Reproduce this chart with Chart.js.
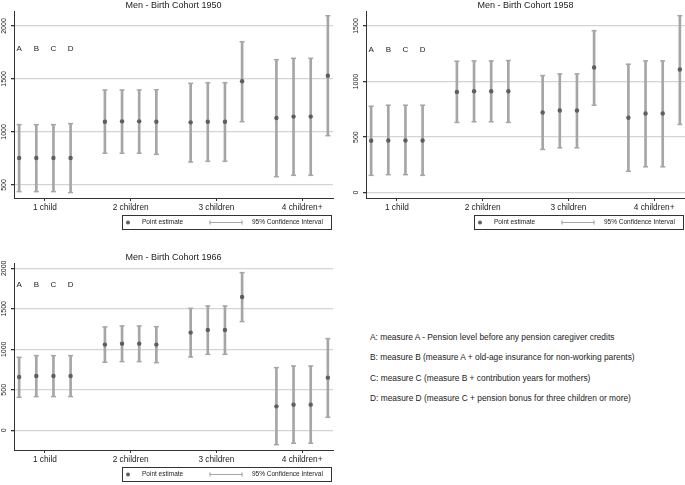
<!DOCTYPE html>
<html>
<head>
<meta charset="utf-8">
<script src="https://cdn.jsdelivr.net/npm/chart.js@4.4.1/dist/chart.umd.min.js"></script>
<style>
  body { margin: 0; width: 685px; height: 485px; overflow: hidden; position: relative; background: #fff; }
  canvas { position: absolute; }
  #notes { position: absolute; left: 370px; top: 327px; font: 8.4px "Liberation Sans", Arial, sans-serif; line-height: 20.3px; color: #222; white-space: nowrap; }
</style>
</head>
<body>
<canvas id="c1950" width="340" height="240" style="left:0;top:0"></canvas>
<canvas id="c1958" width="340" height="240" style="left:352px;top:0"></canvas>
<canvas id="c1966" width="340" height="240" style="left:0;top:252px"></canvas>
<div id="notes">
  <div>A: measure A - Pension level before any pension caregiver credits</div>
  <div>B: measure B (measure A + old-age insurance for non-working parents)</div>
  <div>C: measure C (measure B + contribution years for mothers)</div>
  <div>D: measure D (measure C + pension bonus for three children or more)</div>
</div>
<script>
// categories and measures
const categories = ['1 child', '2 children', '3 children', '4 children+'];
const measures = ['A', 'B', 'C', 'D'];

// cohort 1950: rows = categories, columns = measures A-D
const est1950 = [[755, 755, 755, 755], [1097, 1100, 1100, 1097], [1091, 1097, 1097, 1478], [1132, 1145, 1145, 1531]];
const lo1950  = [[437, 437, 437, 428], [799, 799, 799, 789], [717, 723, 723, 1097], [578, 591, 591, 965]];
const hi1950  = [[1069, 1069, 1069, 1079], [1396, 1396, 1396, 1399], [1459, 1465, 1465, 1852], [1682, 1695, 1695, 2097]];
const ticks1950 = [500, 1000, 1500, 2000];

// cohort 1958
const est1958 = [[467, 470, 470, 470], [907, 913, 913, 913], [722, 740, 740, 1126], [674, 713, 713, 1108]];
const lo1958  = [[156, 162, 162, 156], [632, 638, 638, 632], [389, 404, 404, 787], [192, 233, 233, 614]];
const hi1958  = [[778, 787, 787, 787], [1183, 1186, 1186, 1189], [1054, 1069, 1069, 1458], [1156, 1186, 1186, 1593]];
const ticks1958 = [0, 500, 1000, 1500];

// cohort 1966
const est1966 = [[658, 671, 671, 671], [1058, 1070, 1070, 1058], [1206, 1239, 1239, 1646], [296, 317, 317, 650]];
const lo1966  = [[407, 416, 416, 416], [840, 848, 848, 835], [905, 938, 938, 1342], [-177, -160, -160, 161]];
const hi1966  = [[901, 922, 922, 922], [1276, 1288, 1288, 1280], [1506, 1535, 1535, 1946], [774, 794, 794, 1132]];
const ticks1966 = [0, 500, 1000, 1500, 2000];

const offsets = [-0.3, -0.1, 0.1, 0.3];
const ciColor = '#a6a6a6';
const ptColor = '#5e5e5e';
const ink = '#222';
const fam = '"Liberation Sans", Arial, sans-serif';
Chart.defaults.font.family = fam;

// draws rotated y labels, A-D letters and the boxed legend
const extras = {
  id: 'extras',
  afterDraw(chart, args, opts) {
    const ctx = chart.ctx, xs = chart.scales.x, ys = chart.scales.y, a = chart.chartArea;
    ctx.save();
    ctx.fillStyle = ink;
    ctx.textAlign = 'center';
    ctx.textBaseline = 'middle';
    ctx.font = '7px ' + fam;
    ys.ticks.forEach(t => {
      ctx.save();
      ctx.translate(a.left - 10, ys.getPixelForValue(t.value));
      ctx.rotate(-Math.PI / 2);
      ctx.fillText(String(t.value), 0, 0);
      ctx.restore();
    });
    ctx.font = '8px ' + fam;
    measures.forEach((m, j) => {
      ctx.fillText(m, xs.getPixelForValue(1 + offsets[j]), ys.getPixelForValue(opts.letterY));
    });

    // legend
    const lx = 122.5, ly = 215.5, lw = 209, lh = 14, cy = ly + lh / 2;
    ctx.strokeStyle = '#333';
    ctx.lineWidth = 1;
    ctx.strokeRect(lx, ly, lw, lh);
    ctx.fillStyle = ptColor;
    ctx.beginPath();
    ctx.arc(128, cy, 2, 0, Math.PI * 2);
    ctx.fill();
    ctx.strokeStyle = ciColor;
    ctx.lineWidth = 1.2;
    ctx.beginPath();
    ctx.moveTo(210, cy); ctx.lineTo(242, cy);
    ctx.moveTo(210, cy - 2); ctx.lineTo(210, cy + 2);
    ctx.moveTo(242, cy - 2); ctx.lineTo(242, cy + 2);
    ctx.stroke();
    ctx.fillStyle = ink;
    ctx.textAlign = 'left';
    ctx.font = '6.5px ' + fam;
    ctx.fillText('Point estimate', 142, cy);
    ctx.fillText('95% Confidence Interval', 252, cy);
    ctx.restore();
  }
};

function makePanel(id, title, est, lo, hi, yMin, yMax, yTicks, letterY) {
  const pts = [], bars = [], caps = [];
  categories.forEach((c, i) => {
    measures.forEach((m, j) => {
      const x = i + 1 + offsets[j];
      pts.push({ x: x, y: est[i][j] });
      bars.push({ x: x, y: [lo[i][j], hi[i][j]] });
      caps.push({ x: x, y: lo[i][j] }, { x: x, y: hi[i][j] });
    });
  });

  new Chart(document.getElementById(id), {
    type: 'scatter',
    data: {
      datasets: [
        { label: 'Point estimate', data: pts, pointRadius: 2.2, pointBackgroundColor: ptColor, pointBorderColor: ptColor, pointBorderWidth: 0 },
        { label: 'caps', data: caps, pointStyle: 'line', pointRadius: 2.5, pointBorderColor: ciColor, pointBorderWidth: 1.5 },
        { type: 'bar', label: '95% Confidence Interval', data: bars, backgroundColor: ciColor, barThickness: 2, borderWidth: 0, grouped: false }
      ]
    },
    options: {
      responsive: false,
      animation: false,
      layout: { padding: { left: 14, right: 7, top: 0, bottom: 0 } },
      plugins: {
        legend: { display: false },
        tooltip: { enabled: false },
        title: { display: true, text: title, color: ink, font: { size: 9, weight: 'normal' }, padding: { top: 0.2, bottom: 1 } },
        extras: { letterY: letterY }
      },
      scales: {
        x: {
          type: 'linear', min: 0.64, max: 4.36, offset: false,
          afterBuildTicks: s => { s.ticks = categories.map((c, i) => ({ value: i + 1 })); },
          afterFit: s => { s.height = 42; },
          ticks: { callback: v => categories[v - 1] || '', color: ink, font: { size: 8.3 }, padding: 2, autoSkip: false, maxRotation: 0 },
          grid: { offset: false, drawOnChartArea: false, drawTicks: true, tickLength: 3, tickColor: '#333' },
          border: { color: '#333', width: 1 }
        },
        y: {
          min: yMin, max: yMax,
          afterBuildTicks: s => { s.ticks = yTicks.map(v => ({ value: v })); },
          afterFit: s => { s.width = 0; },
          ticks: { display: false },
          grid: { color: '#d4d4d4', lineWidth: 1.3, drawTicks: true, tickLength: 3, tickColor: '#333' },
          border: { color: '#333', width: 1 }
        }
      }
    },
    plugins: [extras]
  });
}

makePanel('c1950', 'Men - Birth Cohort 1950', est1950, lo1950, hi1950, 377, 2132, ticks1950, 1789);
makePanel('c1958', 'Men - Birth Cohort 1958', est1958, lo1958, hi1958, -48, 1626, ticks1958, 1290);
makePanel('c1966', 'Men - Birth Cohort 1966', est1966, lo1966, hi1966, -243, 2053, ticks1966, 1802);
</script>
</body>
</html>
